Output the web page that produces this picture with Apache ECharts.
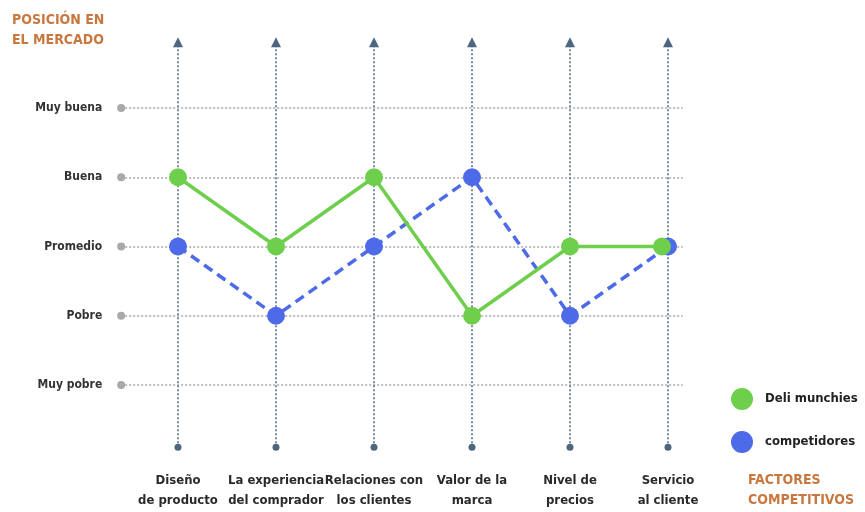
<!DOCTYPE html>
<html><head><meta charset="utf-8">
<script src="https://cdn.jsdelivr.net/npm/echarts@6/dist/echarts.min.js"></script>
<style>html,body{margin:0;padding:0;background:#fff}#c{width:865px;height:512px}</style>
</head><body><div id="c"></div>
<script>
const categories = ['Diseño\nde producto','La experiencia\ndel comprador','Relaciones con\nlos clientes','Valor de la\nmarca','Nivel de\nprecios','Servicio\nal cliente'];
const levels = ['Muy pobre','Pobre','Promedio','Buena','Muy buena'];
const deliMunchies = [3,2,3,1,2,2];
const competidores = [2,1,2,3,1,2];
const FONT = "'DejaVu Sans Condensed','Liberation Sans Narrow','Roboto',sans-serif";
const ORANGE = '#c8783e';

const chart = echarts.init(document.getElementById('c'), null, {renderer:'canvas'});
const hLines = levels.map((l,k)=>[
  {coord:[-0.58,k], symbol:'circle', symbolSize:8},
  {coord:[5.15,k], symbol:'none'}
]);
const vLines = categories.map((c,i)=>[
  {coord:[i,-0.9], symbol:'circle', symbolSize:7},
  {coord:[i,4.95], symbol:'triangle', symbolSize:[10,10]}
]);
chart.setOption({
  animation:false,
  textStyle:{fontFamily:FONT},
  title:[
    {text:'POSICIÓN EN\nEL MERCADO', left:7, top:5, textStyle:{color:ORANGE, fontSize:14, fontWeight:'bold', lineHeight:20, fontFamily:FONT}},
    {text:'FACTORES\nCOMPETITIVOS', left:743, top:465, textStyle:{color:ORANGE, fontSize:14, fontWeight:'bold', lineHeight:20, fontFamily:FONT}}
  ],
  legend:{
    data:['Deli munchies','competidores'], orient:'vertical', left:726, top:383, itemGap:21,
    icon:'circle', itemWidth:22, itemHeight:22,
    textStyle:{fontSize:13, fontWeight:'bold', color:'#222', fontFamily:FONT, padding:[0,0,0,7]}
  },
  grid:{left:119.2, right:182.3, top:38.75, bottom:57.75},
  xAxis:{type:'value', min:-0.6, max:5.15,
    axisLine:{show:false}, axisTick:{show:false}, splitLine:{show:false},
    axisLabel:{customValues:[0,1,2,3,4,5], formatter:v=>categories[Math.round(v)], margin:16,
      fontSize:13, fontWeight:'bold', color:'#2a2a2a', lineHeight:20, fontFamily:FONT}
  },
  yAxis:{type:'value', min:-1, max:5,
    axisLine:{show:false}, axisTick:{show:false}, splitLine:{show:false},
    axisLabel:{customValues:[0,1,2,3,4], formatter:v=>levels[Math.round(v)], margin:17,
      fontSize:12, fontWeight:'bold', color:'#333', fontFamily:FONT}
  },
  series:[
    {type:'line', name:'hgrid', data:[], silent:true, z:0,
      markLine:{silent:true, label:{show:false}, animation:false,
        lineStyle:{type:[2,2], color:'#a9a9a9', width:1.5}, data:hLines}},
    {type:'line', name:'vgrid', data:[], silent:true, z:0,
      markLine:{silent:true, label:{show:false}, animation:false,
        lineStyle:{type:[2,2], color:'#4d6680', width:1.5}, data:vLines}},
    {type:'line', name:'competidores', data:competidores.map((v,i)=>[i,v]),
      symbol:'circle', symbolSize:18, z:3, zlevel:1,
      lineStyle:{color:'#4d6ae8', width:3.5, type:[10,6]},
      itemStyle:{color:'#4d6ae8'}},
    {type:'line', name:'Deli munchies', data:deliMunchies.map((v,i)=>i===5?{value:[i,v],symbolOffset:[-6,0]}:[i,v]),
      symbol:'circle', symbolSize:18, z:4, zlevel:1,
      lineStyle:{color:'#6ecf4c', width:3.5},
      itemStyle:{color:'#6ecf4c'}}
  ]
});
</script></body></html>
